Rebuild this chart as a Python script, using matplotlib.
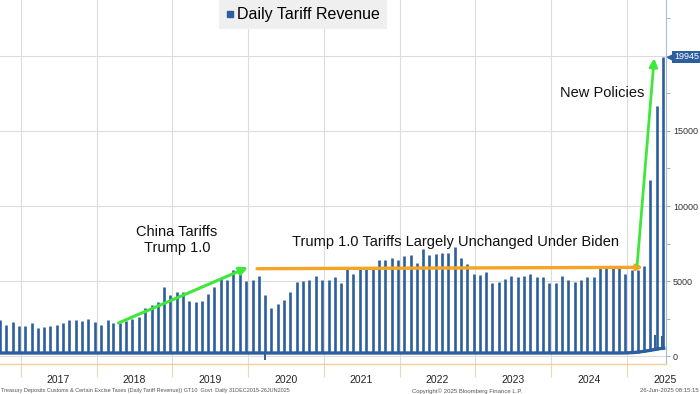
import pandas as pd
import matplotlib
matplotlib.use("Agg")
import matplotlib.pyplot as plt
from matplotlib.lines import Line2D

plt.rcParams["font.family"] = ["Liberation Sans", "DejaVu Sans"]

BLUE = "#2d5f9e"
GREEN = "#3ee83a"
ORANGE = "#f5a524"
GRID = "#dcdcdc"

# monthly spike (peak) of daily tariff revenue, Sep 2016 .. Jun 2025, $mn
peaks = [
    2400, 2070, 2270, 2030,                                                # 2016 Sep-Dec
    2000, 2200, 1870, 1960, 2000, 2100, 2230, 2430, 2430, 2340, 2450, 2300,  # 2017
    2100, 2400, 2230, 2190, 2360, 2450, 2630, 3190, 3410, 3570, 4570, 4080,  # 2018
    4240, 4260, 3680, 3570, 3680, 4130, 4600, 5130, 5050, 5710, 5640, 4970,  # 2019
    5040, 5350, 4080, 3190, 3460, 3750, 4240, 4930, 4970, 5080, 5350, 5040,  # 2020
    5040, 5260, 4900, 5800, 5490, 5800, 5800, 5800, 6380, 6380, 6530, 6380,  # 2021
    6690, 6730, 6200, 7160, 6730, 6820, 6850, 6840, 7280, 6530, 6110, 5490,  # 2022
    5400, 5600, 4860, 4950, 5130, 5310, 5240, 5350, 5490, 5260, 5260, 4860,  # 2023
    4840, 5310, 5080, 4930, 5040, 5260, 5240, 5890, 5890, 5890, 5890, 5490,  # 2024
    5750, 5750, 5970, 11710, 16640, 19945,                                  # 2025
]
# typical non-spike daily level each month
base = [200] * (len(peaks) - 6) + [210, 230, 270, 330, 400, 480]
last_base = 520

month_starts = pd.date_range("2016-09-01", periods=len(peaks), freq="MS")
spike_dates = month_starts + pd.Timedelta(days=22)

# smaller secondary spikes and a negative day
extra_dates = pd.to_datetime(["2025-05-15", "2025-06-17"])
extra_vals = [1400, 1330]
dip_dates = pd.to_datetime(["2020-03-25"])
dip_vals = [-250]

years = list(range(2017, 2026))

fig = plt.figure(figsize=(7, 3.94), dpi=100)
ax = fig.add_axes([0, 30 / 394, 666 / 700, 364 / 394])

ax.plot(list(month_starts) + [pd.Timestamp("2025-06-26")], base + [last_base],
        color=BLUE, lw=2.4, solid_joinstyle="round", zorder=3)
ax.vlines(spike_dates, base, peaks, color=BLUE, lw=1.9, zorder=3)
ax.vlines(extra_dates, base[-2:], extra_vals, color=BLUE, lw=1.4, zorder=3)
ax.vlines(dip_dates, dip_vals, 200, color=BLUE, lw=1.4, zorder=3)

ax.set_xlim(pd.Timestamp("2016-09-23"), pd.Timestamp("2025-07-07"))
ax.set_ylim(-533, 23733)

# x axis: gridlines at year starts, labels mid-year
ax.set_xticks([pd.Timestamp(f"{y}-01-01") for y in years])
ax.set_xticks([pd.Timestamp(f"{y}-07-01") for y in years], minor=True)
ax.set_xticklabels([], minor=False)
ax.set_xticklabels([str(y) for y in years], minor=True)
ax.tick_params(axis="x", which="major", length=9.5, width=0.8, color="#ecd8b4")
ax.tick_params(axis="x", which="minor", length=0, pad=8, labelsize=7.5, labelcolor="#222222")

# y axis on the right
ax.yaxis.tick_right()
ax.set_yticks([0, 5000, 10000, 15000, 20000])
ax.set_yticklabels(["0", "5000", "10000", "15000", ""])
ax.set_yticks([2500, 7500, 12500, 17500, 22500], minor=True)
ax.tick_params(axis="y", which="both", length=3, width=0.7, color="#9fb2c6",
               pad=2, labelsize=6.5, labelcolor="#333333")

ax.grid(which="major", color=GRID, lw=0.8, zorder=0)
for s in ["top", "left"]:
    ax.spines[s].set_visible(False)
ax.spines["right"].set_color("#a8bbcf")
ax.spines["bottom"].set_color("#f0cf98")
ax.spines["bottom"].set_linewidth(1.0)

# annotations
ax.annotate("", xy=(pd.Timestamp("2020-01-01"), 5913), xytext=(pd.Timestamp("2018-04-17"), 2200),
            arrowprops=dict(arrowstyle="-|>", color=GREEN, lw=2.2, mutation_scale=12,
                            shrinkA=0, shrinkB=0), zorder=5)
ax.annotate("", xy=(pd.Timestamp("2025-03-19"), 5913), xytext=(pd.Timestamp("2020-02-14"), 5820),
            arrowprops=dict(arrowstyle="-|>", color=ORANGE, lw=2.4, mutation_scale=8,
                            shrinkA=0, shrinkB=0), zorder=5)
ax.annotate("", xy=(pd.Timestamp("2025-05-11"), 19847), xytext=(pd.Timestamp("2025-02-18"), 6067),
            arrowprops=dict(arrowstyle="-|>", color=GREEN, lw=2.0, mutation_scale=12,
                            shrinkA=0, shrinkB=0), zorder=5)

ax.text(pd.Timestamp("2019-01-23"), 7733, "China Tariffs\nTrump 1.0", ha="center", va="center",
        fontsize=10.5, linespacing=1.1, color="#111111")
ax.text(pd.Timestamp("2022-09-28"), 7600, "Trump 1.0 Tariffs Largely Unchanged Under Biden",
        ha="center", va="center", fontsize=10.5, color="#111111")
ax.text(pd.Timestamp("2024-09-01"), 17533, "New Policies", ha="center", va="center",
        fontsize=10.5, color="#111111")

# last value tag
tr = ax.get_yaxis_transform()
ax.text(1.012, 19945, "19945", transform=tr, ha="left", va="center", fontsize=6.5, color="white",
        bbox=dict(boxstyle="square,pad=0.18", fc=BLUE, ec="none"), clip_on=False, zorder=6)
ax.plot([1.006], [19945], marker="<", ms=5, color=BLUE, transform=tr, clip_on=False, zorder=6)

# legend box
handle = Line2D([], [], marker="s", ls="none", color=BLUE, markersize=4)
leg = fig.legend([handle], ["Daily Tariff Revenue"], loc="upper center",
                 bbox_to_anchor=(303 / 700, 1.0), frameon=True, fancybox=False,
                 facecolor="#efefef", edgecolor="none", framealpha=1, fontsize=11.5,
                 handlelength=0.5, handletextpad=0.2, borderpad=0.45, borderaxespad=0)

# footer
fig.text(0.002, 0.008, "Treasury Deposits Customs & Certain Excise Taxes (Daily Tariff Revenue))"
         " GT10  Govt  Daily 31DEC2015-26JUN2025", ha="left", va="center", fontsize=3.95,
         color="#555555")
fig.text(467 / 700, 0.008, "Copyright\u00a9 2025 Bloomberg Finance L.P.", ha="center", va="center",
         fontsize=4.3, color="#555555")
fig.text(0.998, 0.008, "26-Jun-2025 08:15:15", ha="right", va="center", fontsize=4.3,
         color="#555555")

fig.savefig("out.png", dpi=100)
